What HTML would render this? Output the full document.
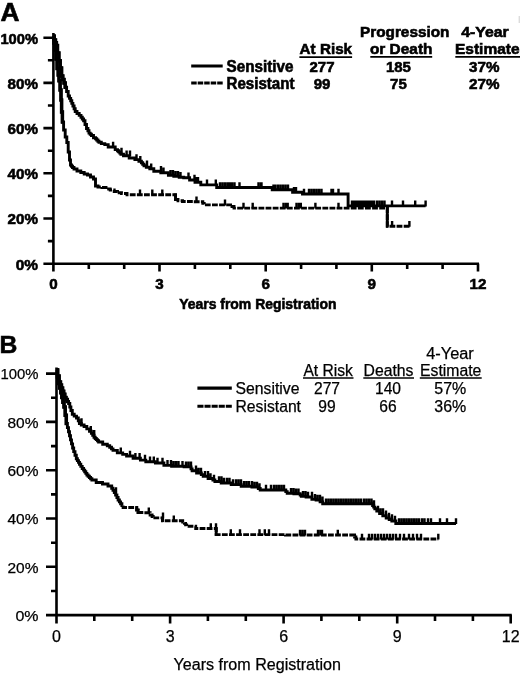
<!DOCTYPE html>
<html><head><meta charset="utf-8"><title>Survival curves</title>
<style>html,body{margin:0;padding:0;background:#fff;}body{width:520px;height:677px;overflow:hidden;font-family:"Liberation Sans",sans-serif;}svg{display:block;filter:grayscale(1);}</style>
</head><body>
<svg width="520" height="677" viewBox="0 0 520 677" font-family="'Liberation Sans', sans-serif" fill="#000">
<path d="M53.4,33V264.8M43.4,263.7H479.06000000000006M43.4,263.7H53.4M47.9,241.1H53.4M43.4,218.5H53.4M47.9,195.9H53.4M43.4,173.3H53.4M47.9,150.7H53.4M43.4,128.1H53.4M47.9,105.5H53.4M43.4,82.9H53.4M47.9,60.3H53.4M43.4,37.7H53.4M53.4,263.7v7.8M88.8,263.7v5.2M124.2,263.7v5.2M159.5,263.7v7.8M194.9,263.7v5.2M230.3,263.7v5.2M265.7,263.7v7.8M301.1,263.7v5.2M336.4,263.7v5.2M371.8,263.7v7.8M407.2,263.7v5.2M442.6,263.7v5.2M478.0,263.7v7.8" stroke="#000" stroke-width="2.6" fill="none"/>
<path d="M53.4,36.2 L54.2,36.2 L54.2,40.0 L55.0,40.0 L55.5,40.0 L55.5,42.7 L56.0,42.7 L56.4,42.7 L56.4,45.4 L56.9,45.4 L57.5,45.4 L57.5,53.0 L58.2,53.0 L58.9,53.0 L58.9,60.8 L59.5,60.8 L60.2,60.8 L60.2,68.0 L60.9,68.0 L61.6,68.0 L61.6,76.0 L62.3,76.0 L62.8,76.0 L62.8,79.5 L63.4,79.5 L64.0,79.5 L64.0,83.0 L64.5,83.0 L65.2,83.0 L65.2,87.2 L65.9,87.2 L66.6,87.2 L66.6,91.5 L67.3,91.5 L68.2,91.5 L68.2,96.0 L69.0,96.0 L69.5,96.0 L69.5,98.4 L70.1,98.4 L70.7,98.4 L70.7,100.8 L71.2,100.8 L71.8,100.8 L71.8,103.4 L72.3,103.4 L72.9,103.4 L72.9,106.0 L73.5,106.0 L74.1,106.0 L74.1,108.8 L74.7,108.8 L75.2,108.8 L75.2,111.5 L75.8,111.5 L77.0,111.5 L77.0,113.5 L78.1,113.5 L79.2,113.5 L79.2,115.4 L80.4,115.4 L81.0,115.4 L81.0,117.2 L81.7,117.2 L82.3,117.2 L82.3,119.0 L82.9,119.0 L83.6,119.0 L83.6,120.8 L84.2,120.8 L85.0,120.8 L85.0,124.5 L85.8,124.5 L86.5,124.5 L86.5,128.5 L87.3,128.5 L87.9,128.5 L87.9,130.8 L88.4,130.8 L89.0,130.8 L89.0,133.1 L89.6,133.1 L90.2,133.1 L90.2,134.3 L90.8,134.3 L91.4,134.3 L91.4,135.5 L92.0,135.5 L93.5,135.5 L93.5,137.7 L95.0,137.7 L95.6,137.7 L95.6,138.8 L96.2,138.8 L96.7,138.8 L96.7,140.0 L97.3,140.0 L97.9,140.0 L97.9,141.2 L98.4,141.2 L99.0,141.2 L99.0,142.3 L99.6,142.3 L101.3,142.3 L101.3,143.6 L103.0,143.6 L104.8,143.6 L104.8,144.6 L106.5,144.6 L108.2,144.6 L108.2,147.0 L110.0,147.0 L113.5,147.0 L115.2,147.0 L115.2,149.6 L116.9,149.6 L117.5,149.6 L117.5,150.8 L118.1,150.8 L118.6,150.8 L118.6,151.9 L119.2,151.9 L119.8,151.9 L119.8,153.0 L120.3,153.0 L120.9,153.0 L120.9,154.2 L121.5,154.2 L123.5,154.2 L123.5,155.8 L125.4,155.8 L129.2,155.8 L129.2,158.0 L133.0,158.0 L134.9,158.0 L134.9,159.6 L136.9,159.6 L138.9,159.6 L138.9,161.2 L140.8,161.2 L141.4,161.2 L141.4,162.7 L142.1,162.7 L142.7,162.7 L142.7,164.3 L143.3,164.3 L144.0,164.3 L144.0,165.8 L144.6,165.8 L146.3,165.8 L146.3,167.3 L148.1,167.3 L149.8,167.3 L149.8,168.8 L151.5,168.8 L153.8,168.8 L153.8,171.2 L156.2,171.2 L160.8,171.2 L160.8,172.7 L165.4,172.7 L168.4,172.7 L168.4,175.3 L171.5,175.3 L173.8,175.3 L173.8,176.4 L176.0,176.4 L179.2,176.4 L179.2,177.3 L182.3,177.3 L183.7,177.3 L183.7,177.7 L185.0,177.7 L188.0,177.7 L189.6,177.7 L189.6,180.0 L191.2,180.0 L195.0,180.0 L195.0,182.3 L198.8,182.3 L200.8,182.3 L200.8,184.9 L202.7,184.9 L215.8,184.9 L216.7,184.9 L216.7,187.5 L217.6,187.5 L271.5,187.5 L272.2,187.5 L272.2,189.8 L273.0,189.8 L292.3,189.8 L292.6,189.8 L292.6,192.3 L293.0,192.3 L301.5,192.3 L302.5,192.3 L302.5,194.0 L303.5,194.0 L347.7,194.0 L348.1,194.0 L348.1,205.9 L348.5,205.9 L425.6,205.9" stroke="#000" stroke-width="2.9" fill="none"/>
<path d="M53.4,36.2 L54.2,36.2 L54.2,40.0 L55.0,40.0 L55.5,40.0 L55.5,42.7 L56.0,42.7 L56.4,42.7 L56.4,45.4 L56.9,45.4 L57.5,45.4 L57.5,53.0 L58.2,53.0 L58.9,53.0 L58.9,60.8 L59.5,60.8 L60.2,60.8 L60.2,68.0 L60.9,68.0 L61.6,68.0 L61.6,76.0 L62.3,76.0 L62.8,76.0 L62.8,79.5 L63.4,79.5 L64.0,79.5 L64.0,83.0 L64.5,83.0 L65.2,83.0 L65.2,87.2 L65.9,87.2" stroke="#000" stroke-width="3.5" fill="none"/>
<path d="M53.4,36.2 L54.0,36.2 L54.0,43.0 L54.5,43.0 L55.0,43.0 L55.0,50.0 L55.4,50.0 L56.0,50.0 L56.0,59.0 L56.5,59.0 L57.1,59.0 L57.1,68.5 L57.7,68.5 L58.2,68.5 L58.2,75.0 L58.6,75.0 L59.0,75.0 L59.0,80.8 L59.5,80.8 L60.1,80.8 L60.1,90.0 L60.8,90.0 L61.0,90.0 L61.0,100.0 L61.3,100.0 L61.6,100.0 L61.6,112.0 L62.0,112.0 L62.4,112.0 L62.4,122.0 L62.7,122.0" stroke="#000" stroke-width="3.5" fill="none"/>
<path d="M113.1,147.5v-5.8M121.5,153.5v-5.8M126.6,156.3v-5.8M130.0,156.3v-5.8M136.5,160.1v-5.8M140.3,161.7v-5.8M147.0,166.3v-5.8M151.2,169.3v-5.8M161.0,171.7v-5.8M163.5,173.2v-5.8M170.5,175.8v-5.8M173.0,175.8v-5.8M175.5,176.9v-5.8M178.0,176.9v-5.8M180.5,177.8v-5.8M188.5,178.2v-5.8M194.5,180.5v-5.8M196.5,182.8v-5.8M198.0,182.8v-5.8M207.0,185.4v-5.8M215.8,185.4v-5.8M220.0,188.0v-5.8M222.5,188.0v-5.8M225.0,188.0v-5.8M227.5,188.0v-5.8M229.6,188.0v-5.8M232.0,188.0v-5.8M234.5,188.0v-5.8M239.5,188.0v-5.8M258.5,188.0v-5.8M261.0,188.0v-5.8M261.5,188.0v-5.8M273.5,190.3v-5.8M275.4,190.3v-5.8M278.0,190.3v-5.8M280.5,190.3v-5.8M283.0,190.3v-5.8M285.5,190.3v-5.8M288.0,190.3v-5.8M294.0,192.8v-5.8M296.0,192.8v-5.8M304.0,194.5v-5.8M309.0,194.5v-5.8M311.5,194.5v-5.8M314.0,194.5v-5.8M316.5,194.5v-5.8M319.0,194.5v-5.8M321.5,194.5v-5.8M331.5,194.5v-5.8M333.0,194.5v-5.8M338.5,194.5v-5.8M352.0,206.4v-5.8M354.2,206.4v-5.8M356.4,206.4v-5.8M358.6,206.4v-5.8M360.8,206.4v-5.8M363.0,206.4v-5.8M365.2,206.4v-5.8M367.4,206.4v-5.8M369.6,206.4v-5.8M371.8,206.4v-5.8M374.0,206.4v-5.8M377.0,206.4v-5.8M379.5,206.4v-5.8M382.0,206.4v-5.8M384.5,206.4v-5.8M392.0,206.4v-5.8M403.0,206.4v-5.8M415.2,206.4v-5.8M425.6,206.4v-5.8" stroke="#000" stroke-width="2.4" fill="none"/>
<path d="M53.4,36.2 L54.0,36.2 L54.0,43.0 L54.5,43.0 L55.0,43.0 L55.0,50.0 L55.4,50.0 L56.0,50.0 L56.0,59.0 L56.5,59.0 L57.1,59.0 L57.1,68.5 L57.7,68.5 L58.2,68.5 L58.2,75.0 L58.6,75.0 L59.0,75.0 L59.0,80.8 L59.5,80.8 L60.1,80.8 L60.1,90.0 L60.8,90.0 L61.0,90.0 L61.0,100.0 L61.3,100.0 L61.6,100.0 L61.6,112.0 L62.0,112.0 L62.4,112.0 L62.4,122.0 L62.7,122.0 L63.6,122.0 L63.6,130.0 L64.4,130.0 L65.2,130.0 L65.2,137.0 L66.0,137.0 L66.8,137.0 L66.8,142.5 L67.5,142.5 L68.2,142.5 L68.2,152.0 L69.0,152.0 L69.5,152.0 L69.5,160.0 L70.0,160.0 L70.5,160.0 L70.5,165.0 L71.0,165.0 L71.5,165.0 L71.5,166.2 L72.0,166.2 L72.5,166.2 L72.5,167.5 L73.0,167.5 L74.0,167.5 L74.0,169.0 L75.0,169.0 L77.0,169.0 L77.0,171.0 L79.0,171.0 L80.8,171.0 L80.8,172.5 L82.5,172.5 L84.2,172.5 L84.2,174.0 L86.0,174.0 L87.5,174.0 L87.5,175.0 L89.0,175.0 L90.5,175.0 L90.5,177.0 L92.0,177.0 L93.5,177.0 L93.5,179.0 L95.0,179.0 L95.5,179.0 L95.5,186.0 L96.0,186.0" stroke="#000" stroke-width="2.9" fill="none"/>
<path d="M96.0,186.0 L98.0,186.0 L98.0,187.0 L100.0,187.0 L102.0,187.0 L102.0,187.5 L104.0,187.5 L106.0,187.5 L106.0,189.0 L108.0,189.0 L110.2,189.0 L110.2,190.0 L112.5,190.0 L114.2,190.0 L114.2,191.5 L116.0,191.5 L117.5,191.5 L117.5,192.7 L119.0,192.7 L121.5,192.7 L121.5,193.5 L124.0,193.5 L127.0,193.5 L127.0,194.8 L130.0,194.8 L175.0,194.8 L175.5,194.8 L175.5,199.5 L176.0,199.5 L178.0,199.5 L178.0,200.8 L180.0,200.8 L182.5,200.8 L182.5,201.5 L185.0,201.5 L193.5,201.5 L193.5,201.8 L202.0,201.8 L202.8,201.8 L202.8,203.4 L203.5,203.4 L204.2,203.4 L204.2,204.9 L205.0,204.9 L231.0,204.9 L232.0,204.9 L232.0,206.5 L233.0,206.5 L234.0,206.5 L234.0,208.1 L235.0,208.1 L387.3,208.1 L387.3,226.2 L409.5,226.2" stroke="#000" stroke-width="2.9" fill="none" stroke-dasharray="5.8 1.3"/>
<path d="M175.5,193.6V200.7M387.3,206.9V227.4" stroke="#000" stroke-width="2.9" fill="none"/>
<path d="M140.0,195.3v-5.8M152.3,195.3v-5.8M162.3,195.3v-5.8M196.5,202.3v-5.8M225.0,205.4v-5.8M243.5,208.6v-5.8M252.7,208.6v-5.8M283.5,208.6v-5.8M286.0,208.6v-5.8M287.7,208.6v-5.8M296.5,208.6v-5.8M299.0,208.6v-5.8M300.8,208.6v-5.8M315.4,208.6v-5.8M338.5,208.6v-5.8M392.1,226.7v-5.8M409.4,226.7v-5.8" stroke="#000" stroke-width="2.4" fill="none"/>
<text x="0.6" y="20.8" font-size="25" text-anchor="start" font-weight="bold" stroke="#000" stroke-width="0.6" textLength="19" lengthAdjust="spacingAndGlyphs">A</text>
<text x="38.0" y="269.6" font-size="15" text-anchor="end" font-weight="bold" stroke="#000" stroke-width="0.6" textLength="22.3" lengthAdjust="spacingAndGlyphs">0%</text>
<text x="38.0" y="224.4" font-size="15" text-anchor="end" font-weight="bold" stroke="#000" stroke-width="0.6" textLength="30.4" lengthAdjust="spacingAndGlyphs">20%</text>
<text x="38.0" y="179.2" font-size="15" text-anchor="end" font-weight="bold" stroke="#000" stroke-width="0.6" textLength="30.4" lengthAdjust="spacingAndGlyphs">40%</text>
<text x="38.0" y="134.0" font-size="15" text-anchor="end" font-weight="bold" stroke="#000" stroke-width="0.6" textLength="30.4" lengthAdjust="spacingAndGlyphs">60%</text>
<text x="38.0" y="88.8" font-size="15" text-anchor="end" font-weight="bold" stroke="#000" stroke-width="0.6" textLength="30.4" lengthAdjust="spacingAndGlyphs">80%</text>
<text x="38.0" y="43.6" font-size="15" text-anchor="end" font-weight="bold" stroke="#000" stroke-width="0.6" textLength="37.6" lengthAdjust="spacingAndGlyphs">100%</text>
<text x="53.4" y="288.5" font-size="15.2" text-anchor="middle" font-weight="bold" stroke="#000" stroke-width="0.6">0</text>
<text x="159.5" y="288.5" font-size="15.2" text-anchor="middle" font-weight="bold" stroke="#000" stroke-width="0.6">3</text>
<text x="265.7" y="288.5" font-size="15.2" text-anchor="middle" font-weight="bold" stroke="#000" stroke-width="0.6">6</text>
<text x="371.8" y="288.5" font-size="15.2" text-anchor="middle" font-weight="bold" stroke="#000" stroke-width="0.6">9</text>
<text x="478.0" y="288.5" font-size="15.2" text-anchor="middle" font-weight="bold" stroke="#000" stroke-width="0.6">12</text>
<text x="179.2" y="308.9" font-size="14.8" text-anchor="start" font-weight="bold" stroke="#000" stroke-width="0.6" textLength="157.3" lengthAdjust="spacingAndGlyphs">Years from Registration</text>
<path d="M191.2,66.0H222.7" stroke="#000" stroke-width="3"/>
<path d="M191.2,83.1H222.7" stroke="#000" stroke-width="3" stroke-dasharray="5.5 1"/>
<text x="226.5" y="71.9" font-size="15.8" text-anchor="start" font-weight="bold" stroke="#000" stroke-width="0.6" textLength="67" lengthAdjust="spacingAndGlyphs">Sensitive</text>
<text x="226.5" y="88.6" font-size="15.8" text-anchor="start" font-weight="bold" stroke="#000" stroke-width="0.6" textLength="68" lengthAdjust="spacingAndGlyphs">Resistant</text>
<text x="299.6" y="54.1" font-size="15.2" text-anchor="start" font-weight="bold" stroke="#000" stroke-width="0.6" textLength="52.5" lengthAdjust="spacingAndGlyphs">At Risk</text>
<path d="M299.4,57.1H352.1" stroke="#000" stroke-width="1.6"/>
<text x="322" y="71.9" font-size="15.2" text-anchor="middle" font-weight="bold" stroke="#000" stroke-width="0.6" textLength="25" lengthAdjust="spacingAndGlyphs">277</text>
<text x="322" y="88.6" font-size="15.2" text-anchor="middle" font-weight="bold" stroke="#000" stroke-width="0.6" textLength="16.7" lengthAdjust="spacingAndGlyphs">99</text>
<text x="404.7" y="36.9" font-size="15.2" text-anchor="middle" font-weight="bold" stroke="#000" stroke-width="0.6" textLength="89.4" lengthAdjust="spacingAndGlyphs">Progression</text>
<text x="401.2" y="54.4" font-size="15.2" text-anchor="middle" font-weight="bold" stroke="#000" stroke-width="0.6" textLength="62.5" lengthAdjust="spacingAndGlyphs">or Death</text>
<path d="M370.3,56.9H432.2" stroke="#000" stroke-width="1.6"/>
<text x="398.4" y="71.9" font-size="15.2" text-anchor="middle" font-weight="bold" stroke="#000" stroke-width="0.6" textLength="25" lengthAdjust="spacingAndGlyphs">185</text>
<text x="398.4" y="88.6" font-size="15.2" text-anchor="middle" font-weight="bold" stroke="#000" stroke-width="0.6" textLength="16.7" lengthAdjust="spacingAndGlyphs">75</text>
<text x="485" y="36.9" font-size="15.2" text-anchor="middle" font-weight="bold" stroke="#000" stroke-width="0.6" textLength="47.5" lengthAdjust="spacingAndGlyphs">4-Year</text>
<text x="455" y="54.4" font-size="15.2" text-anchor="start" font-weight="bold" stroke="#000" stroke-width="0.6" textLength="64.5" lengthAdjust="spacingAndGlyphs">Estimate</text>
<path d="M455.3,56.9H520" stroke="#000" stroke-width="1.6"/>
<text x="484.2" y="71.9" font-size="15.2" text-anchor="middle" font-weight="bold" stroke="#000" stroke-width="0.6" textLength="30.4" lengthAdjust="spacingAndGlyphs">37%</text>
<text x="484.2" y="88.6" font-size="15.2" text-anchor="middle" font-weight="bold" stroke="#000" stroke-width="0.6" textLength="30.4" lengthAdjust="spacingAndGlyphs">27%</text>
<path d="M56.5,367.5V616.2M46.0,615.1H511.80000000000007M46.0,615.1H56.5M51.0,591.0H56.5M46.0,566.8H56.5M51.0,542.7H56.5M46.0,518.5H56.5M51.0,494.4H56.5M46.0,470.2H56.5M51.0,446.1H56.5M46.0,421.9H56.5M51.0,397.8H56.5M46.0,373.6H56.5M56.5,615.1v8.5M94.3,615.1v5.9M132.2,615.1v5.9M170.1,615.1v8.5M207.9,615.1v5.9M245.8,615.1v5.9M283.6,615.1v8.5M321.4,615.1v5.9M359.3,615.1v5.9M397.2,615.1v8.5M435.0,615.1v5.9M472.9,615.1v5.9M510.7,615.1v8.5" stroke="#000" stroke-width="2.6" fill="none"/>
<path d="M56.9,370.0 L57.6,370.0 L57.6,376.0 L58.3,376.0 L59.1,376.0 L59.1,382.0 L60.0,382.0 L60.5,382.0 L60.5,385.1 L61.0,385.1 L61.5,385.1 L61.5,388.1 L62.1,388.1 L62.6,388.1 L62.6,391.2 L63.1,391.2 L63.7,391.2 L63.7,394.3 L64.2,394.3 L64.8,394.3 L64.8,397.4 L65.4,397.4 L66.0,397.4 L66.0,399.4 L66.7,399.4 L67.3,399.4 L67.3,401.5 L67.9,401.5 L68.6,401.5 L68.6,403.5 L69.2,403.5 L69.8,403.5 L69.8,407.0 L70.3,407.0 L70.9,407.0 L70.9,410.5 L71.5,410.5 L72.3,410.5 L72.3,414.2 L73.1,414.2 L74.2,414.2 L74.2,416.1 L75.4,416.1 L76.5,416.1 L76.5,418.0 L77.7,418.0 L78.3,418.0 L78.3,420.8 L78.8,420.8 L79.4,420.8 L79.4,423.5 L80.0,423.5 L81.3,423.5 L81.3,425.0 L82.7,425.0 L84.1,425.0 L84.1,426.5 L85.4,426.5 L86.8,426.5 L86.8,428.9 L88.1,428.9 L89.5,428.9 L89.5,431.2 L90.8,431.2 L91.4,431.2 L91.4,433.2 L92.1,433.2 L92.7,433.2 L92.7,435.3 L93.3,435.3 L94.0,435.3 L94.0,437.3 L94.6,437.3 L95.2,437.3 L95.2,438.5 L95.8,438.5 L96.3,438.5 L96.3,439.6 L96.9,439.6 L97.5,439.6 L97.5,440.8 L98.0,440.8 L98.6,440.8 L98.6,442.0 L99.2,442.0 L102.7,442.0 L102.7,444.2 L106.2,444.2 L107.3,444.2 L107.3,445.8 L108.5,445.8 L109.7,445.8 L109.7,447.3 L110.8,447.3 L111.5,447.3 L111.5,448.9 L112.3,448.9 L113.0,448.9 L113.0,450.4 L113.8,450.4 L117.3,450.4 L117.3,452.9 L120.8,452.9 L122.7,452.9 L122.7,454.4 L124.7,454.4 L126.6,454.4 L126.6,456.0 L128.5,456.0 L133.1,456.0 L133.1,458.3 L137.7,458.3 L140.4,458.3 L140.4,460.1 L143.1,460.1 L145.8,460.1 L145.8,461.8 L148.5,461.8 L155.4,461.8 L155.4,463.0 L162.3,463.0 L163.9,463.0 L163.9,465.4 L165.4,465.4 L171.6,465.4 L171.6,466.2 L177.7,466.2 L184.1,466.2 L184.1,466.9 L190.4,466.9 L191.0,466.9 L191.0,468.9 L191.6,468.9 L192.1,468.9 L192.1,470.8 L192.7,470.8 L196.6,470.8 L196.6,473.0 L200.4,473.0 L201.3,473.0 L201.3,474.6 L202.3,474.6 L203.2,474.6 L203.2,476.2 L204.2,476.2 L208.1,476.2 L208.1,478.5 L212.0,478.5 L212.9,478.5 L212.9,480.0 L213.9,480.0 L214.9,480.0 L214.9,481.5 L215.8,481.5 L221.2,481.5 L221.2,483.0 L226.5,483.0 L231.2,483.0 L231.2,484.6 L235.8,484.6 L241.2,484.6 L241.2,486.2 L246.5,486.2 L251.9,486.2 L251.9,487.0 L257.3,487.0 L258.3,487.0 L258.3,488.5 L259.2,488.5 L260.2,488.5 L260.2,490.0 L261.2,490.0 L285.0,490.0 L285.8,490.0 L285.8,491.6 L286.5,491.6 L287.2,491.6 L287.2,493.3 L288.0,493.3 L293.9,493.3 L293.9,493.7 L299.7,493.7 L300.2,493.7 L300.2,495.0 L300.8,495.0 L301.3,495.0 L301.3,496.4 L301.8,496.4 L306.1,496.4 L306.1,497.0 L310.3,497.0 L311.9,497.0 L311.9,499.2 L313.5,499.2 L316.1,499.2 L316.1,500.0 L318.8,500.0 L320.1,500.0 L320.1,501.9 L321.4,501.9 L322.7,501.9 L322.7,503.8 L324.0,503.8 L372.0,503.8 L372.6,503.8 L372.6,505.5 L373.1,505.5 L373.7,505.5 L373.7,507.1 L374.3,507.1 L374.8,507.1 L374.8,508.8 L375.4,508.8 L376.8,508.8 L376.8,511.1 L378.2,511.1 L379.6,511.1 L379.6,513.5 L381.0,513.5 L382.8,513.5 L382.8,515.8 L384.5,515.8 L386.2,515.8 L386.2,518.0 L388.0,518.0 L389.2,518.0 L389.2,519.5 L390.5,519.5 L391.8,519.5 L391.8,521.0 L393.0,521.0 L395.8,521.0 L395.8,523.5 L398.5,523.5 L456.0,523.5" stroke="#000" stroke-width="2.9" fill="none"/>
<path d="M56.9,370.0 L57.6,370.0 L57.6,376.0 L58.3,376.0 L59.1,376.0 L59.1,382.0 L60.0,382.0 L60.5,382.0 L60.5,385.1 L61.0,385.1 L61.5,385.1 L61.5,388.1 L62.1,388.1 L62.6,388.1 L62.6,391.2 L63.1,391.2 L63.7,391.2 L63.7,394.3 L64.2,394.3 L64.8,394.3 L64.8,397.4 L65.4,397.4 L66.0,397.4 L66.0,399.4 L66.7,399.4 L67.3,399.4 L67.3,401.5 L67.9,401.5" stroke="#000" stroke-width="3.5" fill="none"/>
<path d="M56.9,370.0 L57.5,370.0 L57.5,377.0 L58.0,377.0 L58.6,377.0 L58.6,383.5 L59.2,383.5 L59.7,383.5 L59.7,388.1 L60.2,388.1 L60.8,388.1 L60.8,392.8 L61.3,392.8 L61.8,392.8 L61.8,397.4 L62.3,397.4 L62.9,397.4 L62.9,402.2 L63.4,402.2 L64.0,402.2 L64.0,407.0 L64.6,407.0 L65.2,407.0 L65.2,415.2 L65.8,415.2 L66.3,415.2 L66.3,423.5 L66.9,423.5" stroke="#000" stroke-width="3.5" fill="none"/>
<path d="M81.5,424.0v-5.8M90.8,431.7v-5.8M94.2,435.8v-5.8M120.8,453.4v-5.8M130.0,456.5v-5.8M135.4,458.8v-5.8M139.6,458.8v-5.8M145.0,460.6v-5.8M150.0,462.3v-5.8M153.8,462.3v-5.8M157.5,463.5v-5.8M162.5,463.5v-5.8M167.5,465.9v-5.8M171.0,465.9v-5.8M173.5,466.7v-5.8M176.0,466.7v-5.8M178.5,466.7v-5.8M182.5,466.7v-5.8M186.0,467.4v-5.8M188.5,467.4v-5.8M191.0,467.4v-5.8M196.0,471.3v-5.8M198.5,473.5v-5.8M201.0,473.5v-5.8M205.0,476.7v-5.8M208.0,476.7v-5.8M210.5,479.0v-5.8M214.0,480.5v-5.8M219.0,482.0v-5.8M221.5,482.0v-5.8M224.0,483.5v-5.8M227.0,483.5v-5.8M229.5,483.5v-5.8M233.0,485.1v-5.8M236.0,485.1v-5.8M238.5,485.1v-5.8M241.0,485.1v-5.8M244.0,486.7v-5.8M246.5,486.7v-5.8M249.0,486.7v-5.8M252.0,486.7v-5.8M254.5,487.5v-5.8M257.0,487.5v-5.8M259.5,489.0v-5.8M266.0,490.5v-5.8M271.0,490.5v-5.8M274.0,490.5v-5.8M276.5,490.5v-5.8M279.0,490.5v-5.8M281.5,490.5v-5.8M284.0,490.5v-5.8M291.0,493.8v-5.8M293.5,493.8v-5.8M296.0,494.2v-5.8M298.5,494.2v-5.8M303.0,496.9v-5.8M305.5,496.9v-5.8M308.0,497.5v-5.8M312.0,497.5v-5.8M315.0,499.7v-5.8M317.5,500.5v-5.8M320.0,500.5v-5.8M322.5,502.4v-5.8M326.0,504.3v-5.8M328.5,504.3v-5.8M331.0,504.3v-5.8M333.5,504.3v-5.8M336.0,504.3v-5.8M338.5,504.3v-5.8M341.0,504.3v-5.8M343.5,504.3v-5.8M346.0,504.3v-5.8M348.5,504.3v-5.8M351.0,504.3v-5.8M353.5,504.3v-5.8M356.0,504.3v-5.8M358.5,504.3v-5.8M361.0,504.3v-5.8M364.0,504.3v-5.8M366.5,504.3v-5.8M369.0,504.3v-5.8M371.5,504.3v-5.8M374.0,506.0v-5.8M378.0,511.6v-5.8M380.5,514.0v-5.8M383.0,514.0v-5.8M386.0,516.2v-5.8M389.0,518.5v-5.8M392.0,520.0v-5.8M395.0,521.5v-5.8M399.0,524.0v-5.8M401.5,524.0v-5.8M404.0,524.0v-5.8M406.5,524.0v-5.8M409.0,524.0v-5.8M411.5,524.0v-5.8M414.0,524.0v-5.8M416.5,524.0v-5.8M419.0,524.0v-5.8M422.0,524.0v-5.8M424.5,524.0v-5.8M428.0,524.0v-5.8M431.0,524.0v-5.8M440.0,524.0v-5.8M447.0,524.0v-5.8M456.0,524.0v-5.8" stroke="#000" stroke-width="2.4" fill="none"/>
<path d="M56.9,370.0 L57.5,370.0 L57.5,377.0 L58.0,377.0 L58.6,377.0 L58.6,383.5 L59.2,383.5 L59.7,383.5 L59.7,388.1 L60.2,388.1 L60.8,388.1 L60.8,392.8 L61.3,392.8 L61.8,392.8 L61.8,397.4 L62.3,397.4 L62.9,397.4 L62.9,402.2 L63.4,402.2 L64.0,402.2 L64.0,407.0 L64.6,407.0 L65.2,407.0 L65.2,415.2 L65.8,415.2 L66.3,415.2 L66.3,423.5 L66.9,423.5 L67.4,423.5 L67.4,427.6 L67.9,427.6 L68.5,427.6 L68.5,431.7 L69.0,431.7 L69.5,431.7 L69.5,435.8 L70.0,435.8 L70.5,435.8 L70.5,439.9 L71.0,439.9 L71.5,439.9 L71.5,443.9 L72.1,443.9 L72.6,443.9 L72.6,448.0 L73.1,448.0 L73.7,448.0 L73.7,451.6 L74.4,451.6 L75.0,451.6 L75.0,455.2 L75.6,455.2 L76.3,455.2 L76.3,458.8 L76.9,458.8 L77.4,458.8 L77.4,460.6 L77.9,460.6 L78.5,460.6 L78.5,462.4 L79.0,462.4 L79.5,462.4 L79.5,464.2 L80.0,464.2 L80.8,464.2 L80.8,466.4 L81.5,466.4 L82.2,466.4 L82.2,468.5 L83.0,468.5 L83.6,468.5 L83.6,470.1 L84.1,470.1 L84.7,470.1 L84.7,471.8 L85.2,471.8 L85.8,471.8 L85.8,473.4 L86.4,473.4 L86.9,473.4 L86.9,475.0 L87.5,475.0 L88.1,475.0 L88.1,476.2 L88.8,476.2 L89.4,476.2 L89.4,477.5 L90.0,477.5 L90.6,477.5 L90.6,478.8 L91.2,478.8 L91.9,478.8 L91.9,480.0 L92.5,480.0 L96.2,480.0 L96.2,482.5 L100.0,482.5 L102.5,482.5 L102.5,484.0 L105.0,484.0 L108.0,484.0 L108.0,486.0 L111.0,486.0 L111.7,486.0 L111.7,488.2 L112.3,488.2 L113.0,488.2 L113.0,490.3 L113.7,490.3 L114.3,490.3 L114.3,492.5 L115.0,492.5 L115.6,492.5 L115.6,495.0 L116.2,495.0 L116.9,495.0 L116.9,497.5 L117.5,497.5 L118.1,497.5 L118.1,500.0 L118.8,500.0 L119.4,500.0 L119.4,501.9 L120.0,501.9 L120.6,501.9 L120.6,503.8 L121.2,503.8 L121.9,503.8 L121.9,505.6 L122.5,505.6" stroke="#000" stroke-width="2.9" fill="none"/>
<path d="M123.1,505.6 L123.1,507.5 L123.8,507.5 L136.0,507.5 L136.7,507.5 L136.7,510.0 L137.4,510.0 L138.1,510.0 L138.1,512.5 L138.8,512.5 L143.7,512.5 L143.7,512.7 L148.7,512.7 L150.1,512.7 L150.1,515.0 L151.5,515.0 L152.1,515.0 L152.1,516.5 L152.7,516.5 L153.2,516.5 L153.2,517.9 L153.8,517.9 L162.5,517.9 L162.5,520.8 L181.5,520.8 L182.7,520.8 L182.7,522.0 L183.8,522.0 L184.4,522.0 L184.4,523.4 L185.0,523.4 L185.6,523.4 L185.6,524.9 L186.1,524.9 L186.7,524.9 L186.7,526.3 L187.3,526.3 L194.8,526.3 L195.7,526.3 L195.7,528.5 L196.5,528.5 L215.4,528.5 L216.2,528.5 L216.2,534.6 L217.0,534.6 L285.5,534.6 L285.5,535.0 L354.0,535.0 L354.6,535.0 L354.6,537.0 L355.2,537.0 L355.9,537.0 L355.9,539.0 L356.5,539.0 L438.3,539.0" stroke="#000" stroke-width="2.9" fill="none" stroke-dasharray="5.8 1.3"/>
<path d="M136.7,506.3V511.2M138.1,508.8V513.7M162.5,516.7V522.0M216.2,527.3V535.8" stroke="#000" stroke-width="2.9" fill="none"/>
<path d="M116.0,493.0v-5.8M148.8,513.2v-5.8M163.0,518.4v-5.8M173.8,521.3v-5.8M210.8,529.0v-5.8M216.0,529.0v-5.8M230.8,535.1v-5.8M240.0,535.1v-5.8M259.5,535.1v-5.8M264.8,535.1v-5.8M269.0,535.1v-5.8M300.0,535.5v-5.8M302.5,535.5v-5.8M305.0,535.5v-5.8M318.0,535.5v-5.8M320.5,535.5v-5.8M322.0,535.5v-5.8M337.8,535.5v-5.8M362.0,539.5v-5.8M369.0,539.5v-5.8M372.0,539.5v-5.8M375.0,539.5v-5.8M378.0,539.5v-5.8M381.0,539.5v-5.8M384.0,539.5v-5.8M387.0,539.5v-5.8M390.0,539.5v-5.8M393.0,539.5v-5.8M396.0,539.5v-5.8M400.0,539.5v-5.8M404.0,539.5v-5.8M409.0,539.5v-5.8M413.0,539.5v-5.8M417.0,539.5v-5.8M421.0,539.5v-5.8M438.3,539.5v-5.8" stroke="#000" stroke-width="2.4" fill="none"/>
<text x="-0.4" y="352.8" font-size="24.7" text-anchor="start" font-weight="bold" stroke="#000" stroke-width="0.6">B</text>
<text x="38.5" y="620.9" font-size="15.2" text-anchor="end" stroke="#000" stroke-width="0.25" textLength="23.1" lengthAdjust="spacingAndGlyphs">0%</text>
<text x="38.5" y="572.6" font-size="15.2" text-anchor="end" stroke="#000" stroke-width="0.25" textLength="31" lengthAdjust="spacingAndGlyphs">20%</text>
<text x="38.5" y="524.3" font-size="15.2" text-anchor="end" stroke="#000" stroke-width="0.25" textLength="31" lengthAdjust="spacingAndGlyphs">40%</text>
<text x="38.5" y="476.0" font-size="15.2" text-anchor="end" stroke="#000" stroke-width="0.25" textLength="31" lengthAdjust="spacingAndGlyphs">60%</text>
<text x="38.5" y="427.7" font-size="15.2" text-anchor="end" stroke="#000" stroke-width="0.25" textLength="31" lengthAdjust="spacingAndGlyphs">80%</text>
<text x="38.5" y="379.4" font-size="15.2" text-anchor="end" stroke="#000" stroke-width="0.25" textLength="38.0" lengthAdjust="spacingAndGlyphs">100%</text>
<text x="56.5" y="641.6" font-size="16" text-anchor="middle" stroke="#000" stroke-width="0.25">0</text>
<text x="170.1" y="641.6" font-size="16" text-anchor="middle" stroke="#000" stroke-width="0.25">3</text>
<text x="283.6" y="641.6" font-size="16" text-anchor="middle" stroke="#000" stroke-width="0.25">6</text>
<text x="397.2" y="641.6" font-size="16" text-anchor="middle" stroke="#000" stroke-width="0.25">9</text>
<text x="510.7" y="641.6" font-size="16" text-anchor="middle" stroke="#000" stroke-width="0.25">12</text>
<text x="173.5" y="670.2" font-size="16" text-anchor="start" stroke="#000" stroke-width="0.25" textLength="167.5" lengthAdjust="spacingAndGlyphs">Years from Registration</text>
<path d="M197.4,388.1H231.8" stroke="#000" stroke-width="3.1"/>
<path d="M197.4,406.2H231.8" stroke="#000" stroke-width="3.1" stroke-dasharray="6.1 1"/>
<text x="235.5" y="393.7" font-size="15.6" text-anchor="start" stroke="#000" stroke-width="0.25" textLength="64" lengthAdjust="spacingAndGlyphs">Sensitive</text>
<text x="235.5" y="411.5" font-size="15.6" text-anchor="start" stroke="#000" stroke-width="0.25" textLength="65.5" lengthAdjust="spacingAndGlyphs">Resistant</text>
<text x="303.4" y="376" font-size="15.6" text-anchor="start" stroke="#000" stroke-width="0.25" textLength="49.5" lengthAdjust="spacingAndGlyphs">At Risk</text>
<path d="M303,377.9H353.5" stroke="#000" stroke-width="1.5"/>
<text x="327" y="393.7" font-size="15.6" text-anchor="middle" stroke="#000" stroke-width="0.25">277</text>
<text x="327" y="411.5" font-size="15.6" text-anchor="middle" stroke="#000" stroke-width="0.25">99</text>
<text x="363.5" y="376" font-size="15.6" text-anchor="start" stroke="#000" stroke-width="0.25" textLength="50" lengthAdjust="spacingAndGlyphs">Deaths</text>
<path d="M363.3,377.9H414" stroke="#000" stroke-width="1.5"/>
<text x="388" y="393.7" font-size="15.6" text-anchor="middle" stroke="#000" stroke-width="0.25">140</text>
<text x="388" y="411.5" font-size="15.6" text-anchor="middle" stroke="#000" stroke-width="0.25">66</text>
<text x="450" y="358.5" font-size="15.6" text-anchor="middle" stroke="#000" stroke-width="0.25" textLength="47.6" lengthAdjust="spacingAndGlyphs">4-Year</text>
<text x="420" y="376" font-size="15.6" text-anchor="start" stroke="#000" stroke-width="0.25" textLength="61.3" lengthAdjust="spacingAndGlyphs">Estimate</text>
<path d="M419.8,377.9H481.7" stroke="#000" stroke-width="1.5"/>
<text x="450.3" y="393.7" font-size="15.6" text-anchor="middle" stroke="#000" stroke-width="0.25" textLength="32" lengthAdjust="spacingAndGlyphs">57%</text>
<text x="450.3" y="411.5" font-size="15.6" text-anchor="middle" stroke="#000" stroke-width="0.25" textLength="32" lengthAdjust="spacingAndGlyphs">36%</text>
<rect x="518.6" y="16" width="1.4" height="7" fill="#dcdcdc"/>
</svg>
</body></html>
